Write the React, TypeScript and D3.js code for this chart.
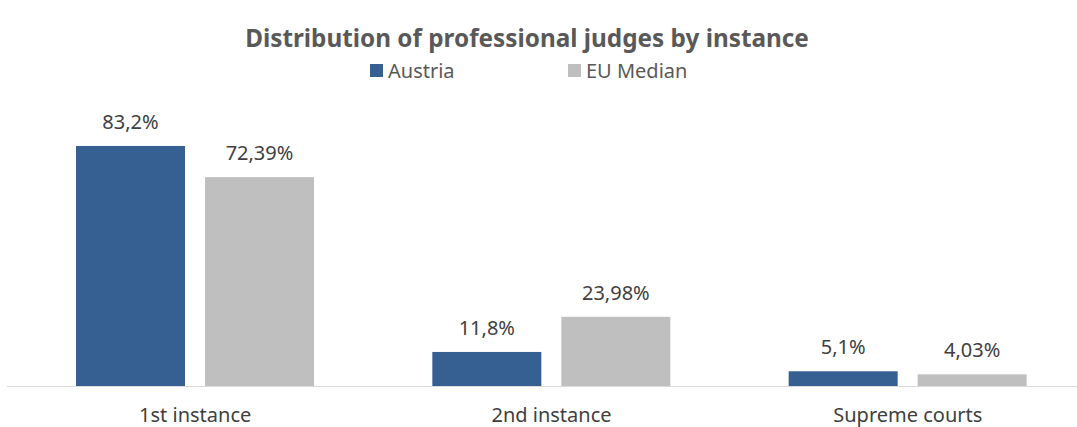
import React from "react";
import * as d3 from "d3";

const categories = ["1st instance", "2nd instance", "Supreme courts"];
const seriesNames = ["Austria", "EU Median"];
const austria = [83.2, 11.8, 5.1];
const euMedian = [72.39, 23.98, 4.03];
const austriaLabels = ["83,2%", "11,8%", "5,1%"];
const euLabels = ["72,39%", "23,98%", "4,03%"];
const colors = ["#376092", "#BFBFBF"];

const W = 1077;
const H = 427;
const FONT = "'Noto Sans', 'Open Sans', sans-serif";

export default function App() {
  const x0 = d3.scaleBand<string>().domain(categories).range([17, 1086]).padding(0);
  const x1 = d3
    .scaleBand<string>()
    .domain(seriesNames)
    .range([59, 297])
    .paddingInner(20 / 129)
    .paddingOuter(0);
  const y = d3.scaleLinear().domain([0, 100]).range([386, 97.5]);

  const values = [austria, euMedian];
  const labels = [austriaLabels, euLabels];

  return (
    <svg
      width={W}
      height={H}
      style={{ position: "absolute", left: 0, top: 0, background: "#fff" }}
      fontFamily={FONT}
    >
      <text x={527} y={47} textAnchor="middle" fontSize={24.3} fontWeight="bold" fill="#595959">
        Distribution of professional judges by instance
      </text>
      {seriesNames.map((s, i) => {
        const lx = [370, 568][i];
        return (
          <g key={s}>
            <rect x={lx} y={64} width={13} height={13} fill={colors[i]} />
            <text x={lx + 18} y={78} fontSize={20} fill="#595959">
              {s}
            </text>
          </g>
        );
      })}
      <line x1={7} x2={W} y1={386.5} y2={386.5} stroke="#D9D9D9" strokeWidth={1} />
      {categories.map((c, ci) => (
        <g key={c} transform={`translate(${x0(c)},0)`}>
          {seriesNames.map((s, si) => {
            const v = values[si][ci];
            const bx = x1(s)!;
            return (
              <g key={s}>
                <rect
                  x={bx}
                  y={y(v)}
                  width={x1.bandwidth()}
                  height={y(0) - y(v)}
                  fill={colors[si]}
                />
                <text
                  x={bx + x1.bandwidth() / 2}
                  y={y(v) - 17}
                  textAnchor="middle"
                  fontSize={20}
                  fill="#404040"
                >
                  {labels[si][ci]}
                </text>
              </g>
            );
          })}
          <text
            x={x0.bandwidth() / 2}
            y={422}
            textAnchor="middle"
            fontSize={20}
            fill="#404040"
          >
            {c}
          </text>
        </g>
      ))}
    </svg>
  );
}
